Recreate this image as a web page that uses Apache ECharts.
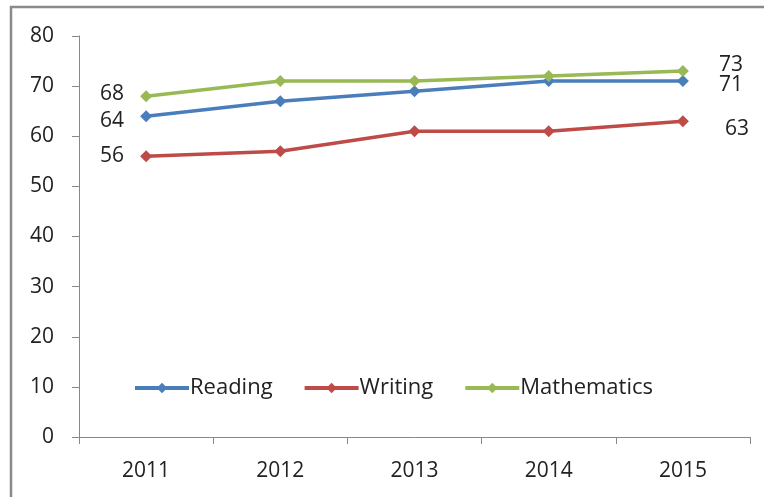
<!DOCTYPE html>
<html><head><meta charset="utf-8">
<script src="https://cdn.jsdelivr.net/npm/echarts@6/dist/echarts.min.js"></script>
<style>html,body{margin:0;padding:0;background:#fff}#c{width:764px;height:497px}</style>
</head><body><div id="c"></div>
<script>
const years = ['2011','2012','2013','2014','2015'];
const reading = [64, 67, 69, 71, 71];
const writing = [56, 57, 61, 61, 63];
const mathematics = [68, 71, 71, 72, 73];
const yTicks = [0, 10, 20, 30, 40, 50, 60, 70, 80];

const FONT = 'Open Sans';
const FS = 21;
const chart = echarts.init(document.getElementById('c'), null, {renderer: 'canvas'});

function endLabels(values, leftOff, rightOff) {
  return values.map((v, i) => {
    if (i === 0) return {value: v, label: {show: true, position: 'left', distance: 16, offset: leftOff}};
    if (i === values.length - 1) return {value: v, label: {show: true, position: 'right', distance: 30, offset: rightOff}};
    return v;
  });
}
const labelStyle = {color: '#222', fontSize: FS, fontFamily: FONT};

function mk(name, data, color, lo, ro) {
  return {
    name, type: 'line', data: endLabels(data, lo, ro),
    symbol: 'diamond', symbolSize: 12,
    lineStyle: {color, width: 3.5}, itemStyle: {color},
    label: Object.assign({show: false, formatter: '{c}'}, labelStyle),
    z: 3
  };
}

chart.setOption({
  animation: false,
  graphic: [{
    type: 'rect', shape: {x: 11, y: 7, width: 800, height: 600},
    style: {fill: 'none', stroke: '#8a8a8a', lineWidth: 2.5}, z: -1
  }],
  grid: {left: 79, right: 14, top: 36, bottom: 60},
  legend: {
    data: ['Reading', 'Writing', 'Mathematics'],
    left: 128, top: 372, itemWidth: 54, itemHeight: 13, itemGap: 30,
    lineStyle: {width: 4},
    textStyle: {fontSize: 22, fontFamily: FONT, color: '#222', padding: [0, 0, 0, -4]}
  },
  xAxis: {
    type: 'category', data: years, boundaryGap: true,
    axisLine: {lineStyle: {color: '#888', width: 1}},
    axisTick: {show: true, length: 7, lineStyle: {color: '#888'}},
    axisLabel: {fontSize: FS, fontFamily: FONT, color: '#222', margin: 24}
  },
  yAxis: {
    type: 'value', min: yTicks[0], max: yTicks[yTicks.length - 1], interval: 10,
    axisLine: {show: true, lineStyle: {color: '#888', width: 1}},
    axisTick: {show: true, length: 7, lineStyle: {color: '#888'}},
    splitLine: {show: false},
    axisLabel: {fontSize: FS, fontFamily: FONT, color: '#222', margin: 25}
  },
  series: [
    mk('Reading', reading, '#4A7EBB', [0, 5], [0, 4]),
    mk('Writing', writing, '#BE4B48', [0, 0], [6, 8]),
    mk('Mathematics', mathematics, '#98B954', [0, -2], [0, -6])
  ]
});
</script></body></html>
